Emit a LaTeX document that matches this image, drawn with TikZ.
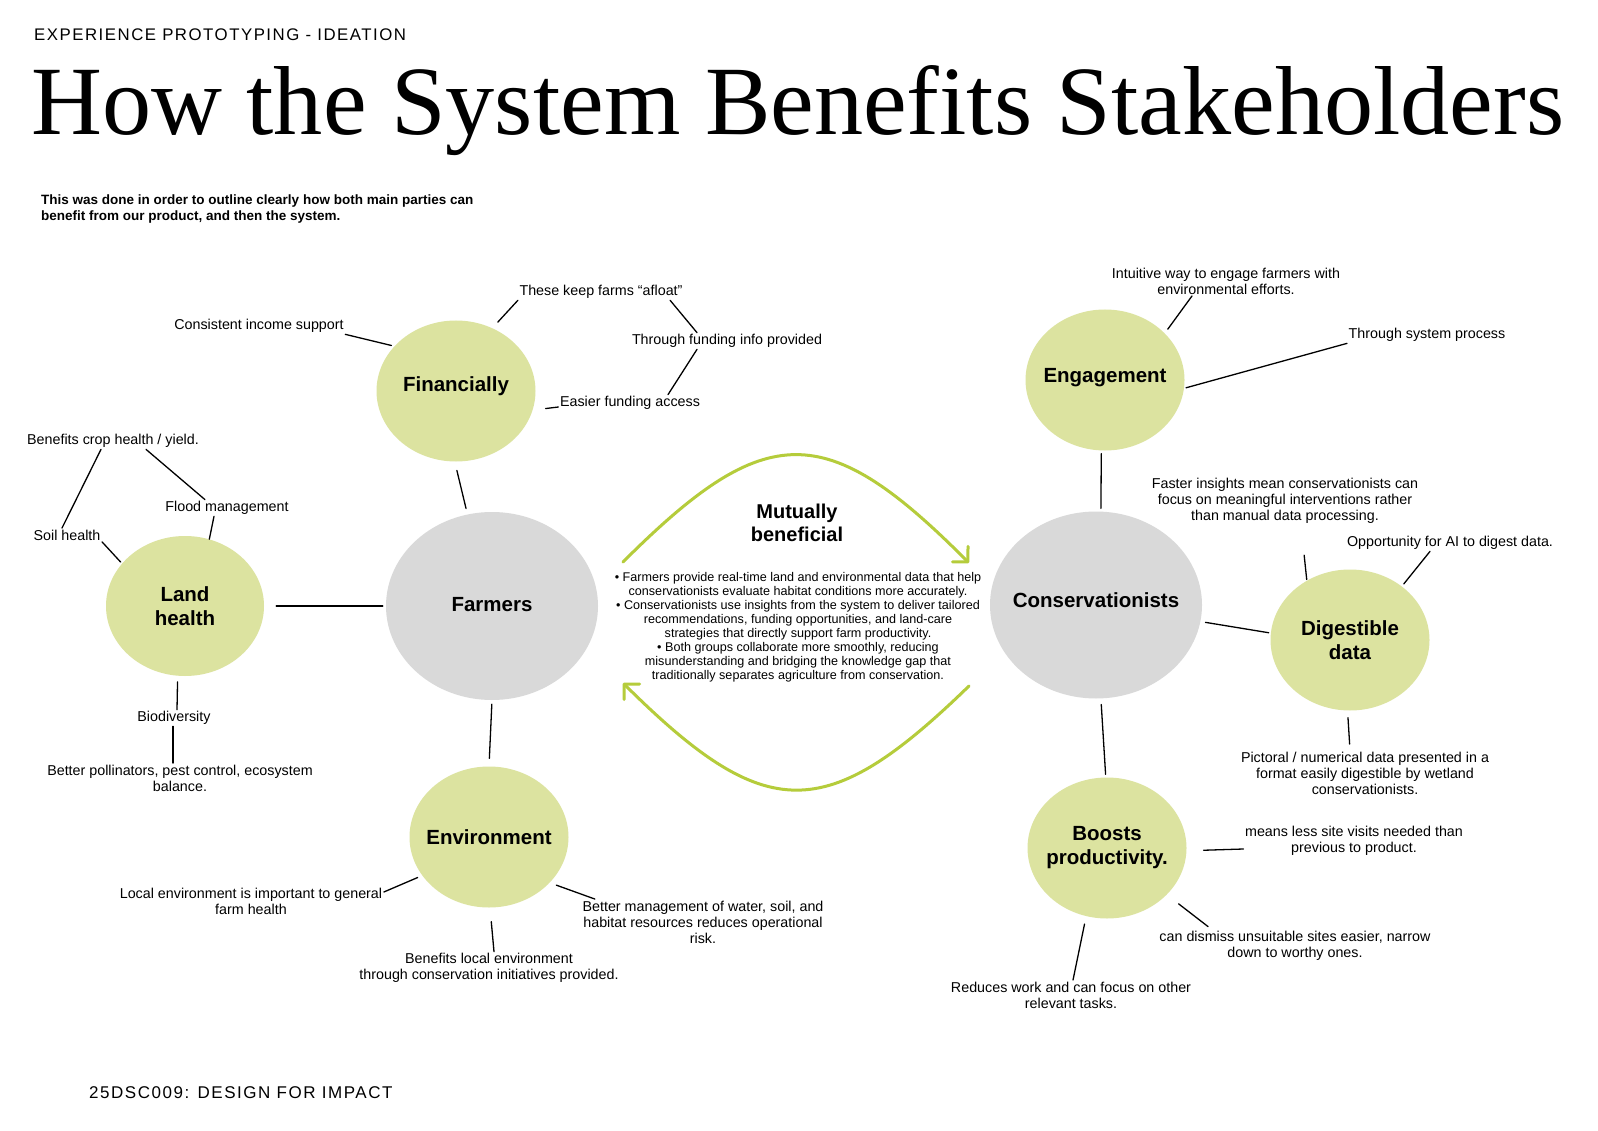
\documentclass[tikz,border=0pt]{standalone}
\usepackage{fontspec}
\usepackage{graphicx}
\setmainfont{Liberation Sans}
\newfontfamily\titlefont{Liberation Serif}
\newfontfamily\capsfont[LetterSpace=9]{Liberation Sans}
\usetikzlibrary{arrows.meta, shapes.geometric}

\definecolor{leaf}{HTML}{DCE3A0}
\definecolor{stone}{HTML}{D9D9D9}
\definecolor{lime}{HTML}{B5CC3B}

\tikzset{
  bubble/.style={ellipse, fill=leaf, inner xsep=-20pt, inner ysep=0pt, align=center,
    font=\fontsize{20.5}{24}\selectfont\bfseries,
    minimum width=159pt, minimum height=141pt},
  party/.style={bubble, fill=stone, minimum width=212pt, minimum height=188pt},
  note/.style={inner sep=1.5pt, align=center, font=\fontsize{14.3}{16}\selectfont},
  link/.style={line width=1.3pt, line cap=round},
  swing/.style={draw=lime, line width=3pt, line cap=round,
    -{Straight Barb[length=11pt, width=22pt, round]}}
}

\begin{document}
\begin{tikzpicture}[x=1pt, y=-1pt]
  \fill[white] (0,0) rectangle (1598,1131);
  \useasboundingbox (0,0) rectangle (1598,1131);

  % heading
  \node[anchor=base west, inner sep=0pt, font=\capsfont\fontsize{16.8}{20}\selectfont] (kicker) at (34,41) {EXPERIENCE PROTOTYPING - IDEATION};
  \node[anchor=base west, inner sep=0pt, font=\titlefont\fontsize{98}{100}\selectfont] (headline) at (31,135)
    {\resizebox{1533pt}{\height}{How the System Benefits Stakeholders}};
  \node[anchor=west, inner sep=0pt, align=left, font=\fontsize{13.5}{16}\selectfont\bfseries] (intro) at (41,209)
    {This was done in order to outline clearly how both main parties can\\benefit from our product, and then the system.};
  \node[anchor=base west, inner sep=0pt, font=\capsfont\fontsize{17}{20}\selectfont] (course) at (89,1098) {25DSC009: DESIGN FOR IMPACT};

  % stakeholders and benefits
  \node[bubble] (fin) at (456,391) {\raisebox{14pt}{Financially}};
  \node[party] (farm) at (492,606) {\raisebox{4pt}{Farmers}};
  \node[bubble, minimum width=158pt, minimum height=140pt] (land) at (185,606) {Land\\health};
  \node[bubble] (env) at (489,837) {Environment};
  \node[bubble] (eng) at (1105,380) {\raisebox{10pt}{Engagement}};
  \node[party, minimum height=187pt] (cons) at (1096,605) {\raisebox{10pt}{Conservationists}};
  \node[bubble] (dig) at (1350,640) {Digestible\\data};
  \node[bubble] (boost) at (1107,848) {Boosts\\productivity.};

  % notes
  \node[note] (income) at (259,326) {Consistent income support};
  \node[note] (afloat) at (601,292) {These keep farms “afloat”};
  \node[note] (viainfo) at (727,341) {Through funding info provided};
  \node[note] (access) at (630,403) {Easier funding access};
  \node[note] (crop) at (113,441) {Benefits crop health / yield.};
  \node[note] (flood) at (227,508) {Flood management};
  \node[note] (soil) at (67,535) {Soil health};
  \node[note] (bio) at (174,718) {Biodiversity};
  \node[note] (pollin) at (180,778) {Better pollinators, pest control, ecosystem\\balance.};
  \node[note] (local) at (251,901) {Local environment is important to general\\farm health};
  \node[note] (water) at (703,922) {Better management of water, soil, and\\habitat resources reduces operational\\risk.};
  \node[note] (benlocal) at (489,968) {Benefits local environment\\through conservation initiatives provided.};
  \node[note] (intuit) at (1226,281) {Intuitive way to engage farmers with\\environmental efforts.};
  \node[note] (sysproc) at (1427,335) {Through system process};
  \node[note] (faster) at (1285,501) {Faster insights mean conservationists can\\focus on meaningful interventions rather\\than manual data processing.};
  \node[note] (opp) at (1450,543) {Opportunity for AI to digest data.};
  \node[note] (pict) at (1365,773) {Pictoral / numerical data presented in a\\format easily digestible by wetland\\conservationists.};
  \node[note] (means) at (1354,841) {means less site visits needed than\\previous to product.};
  \node[note] (dismiss) at (1295,946) {can dismiss unsuitable sites easier, narrow\\down to worthy ones.};
  \node[note] (reduces) at (1071,995) {Reduces work and can focus on other\\relevant tasks.};

  % middle
  \node[align=center, font=\fontsize{20}{23}\selectfont\bfseries] (mutual) at (797,523) {Mutually\\beneficial};
  \node[align=center, font=\fontsize{12.6}{14}\selectfont] (points) at (798,627)
    {\textbullet\ Farmers provide real-time land and environmental data that help\\
     conservationists evaluate habitat conditions more accurately.\\
     \textbullet\ Conservationists use insights from the system to deliver tailored\\
     recommendations, funding opportunities, and land-care\\
     strategies that directly support farm productivity.\\
     \textbullet\ Both groups collaborate more smoothly, reducing\\
     misunderstanding and bridging the knowledge gap that\\
     traditionally separates agriculture from conservation.};
  \coordinate (outA) at (623,562);
  \coordinate (inA) at (969,563);
  \coordinate (outB) at (969,686);
  \coordinate (inB) at (623,683);
  \draw[swing] (outA) .. controls (766,419) and (826,419) .. (inA);
  \draw[swing] (outB) .. controls (826,825) and (766,825) .. (inB);

  % main links
  \draw[link, shorten <=9pt, shorten >=6pt] (fin.-91) -- (farm.105);
  \draw[link, shorten <=12pt, shorten >=3pt] (land.east) -- (farm.west);
  \draw[link, shorten <=4pt, shorten >=8pt] (farm.south) -- (env.north);
  \draw[link, shorten <=3pt, shorten >=3pt] (eng.-93) -- (cons.87);
  \draw[link, shorten <=5pt, shorten >=2pt] (cons.-9) -- (dig.175);
  \draw[link, shorten <=6pt, shorten >=3pt] (cons.-87) -- (boost.91);

  % note links
  \draw[link, shorten <=3pt] (fin.144) -- (income.south east);
  \draw[link, shorten <=8pt] (fin.60) -- (afloat.south west);
  \draw[link] ([xshift=-14pt]afloat.south east) -- ([xshift=-30pt]viainfo.north);
  \draw[link] ([xshift=-30pt]viainfo.south) -- ([xshift=38pt]access.north);
  \draw[link, shorten <=13pt] (fin.-14) -- ([yshift=-4pt]access.west);
  \draw[link] ([xshift=-12pt]crop.south) -- ([xshift=-5pt]soil.north);
  \draw[link] ([xshift=33pt]crop.south) -- ([xshift=-22pt]flood.north);
  \draw[link] ([xshift=-13pt]flood.south) -- (land.70);
  \draw[link, shorten >=2pt] (soil.south east) -- (land.146);
  \draw[link, shorten <=6pt] (land.-96) -- ([xshift=3pt]bio.north);
  \draw[link] ([xshift=-1pt]bio.south) -- ([xshift=-7pt]pollin.north);
  \draw[link, shorten <=5pt] (env.210) -- ([yshift=9pt]local.east);
  \draw[link, shorten <=7pt] (env.-37) -- ([xshift=14pt]water.north west);
  \draw[link, shorten <=14pt] ([xshift=1pt]env.south) -- ([xshift=5pt]benlocal.north);
  \draw[link, shorten <=5pt] (eng.38) -- ([xshift=-34pt]intuit.south);
  \draw[link, shorten <=2pt] (eng.-6) -- (sysproc.south west);
  \draw[link, shorten <=1pt, shorten >=30pt] (dig.126) -- ([xshift=16pt]faster.south);
  \draw[link, shorten <=3pt] (dig.46) -- ([xshift=-20pt]opp.south);
  \draw[link, shorten <=7pt, shorten >=6pt] (dig.-92) -- ([xshift=-15pt]pict.north);
  \draw[link, shorten <=17pt] (boost.-2) -- ([yshift=-8pt]means.west);
  \draw[link, shorten <=15pt, shorten >=5pt] (boost.-38) -- ([xshift=-83pt]dismiss.north);
  \draw[link, shorten <=8pt] (boost.-107) -- ([xshift=2pt]reduces.north);
\end{tikzpicture}
\end{document}
